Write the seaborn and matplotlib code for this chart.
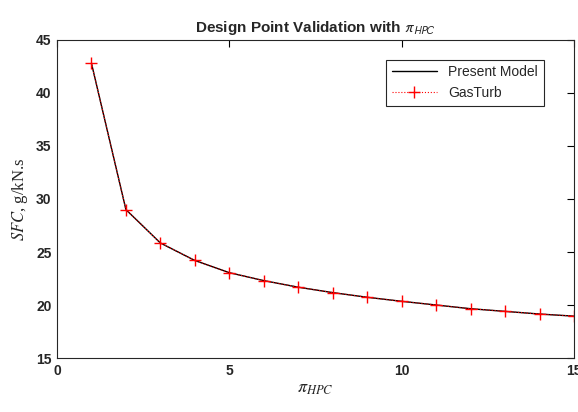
import numpy as np
import pandas as pd
import matplotlib
matplotlib.use("Agg")
import matplotlib.pyplot as plt
import seaborn as sns

# --- datos ---
pi_hpc = [1, 2, 3, 4, 5, 6, 7, 8, 9, 10, 11, 12, 13, 14, 15]
sfc_model = [42.8, 29.0, 25.85, 24.2, 23.05, 22.3, 21.68, 21.17, 20.73, 20.35,
             20.0, 19.65, 19.4, 19.15, 18.95]
sfc_gasturb = [42.8, 29.0, 25.85, 24.2, 23.05, 22.3, 21.68, 21.17, 20.73, 20.35,
               20.0, 19.65, 19.4, 19.15, 18.95]
x_ticks = [0, 5, 10, 15]
y_ticks = [15, 20, 25, 30, 35, 40, 45]

sns.set_style("white")
plt.rcParams['font.family'] = ['Liberation Sans', 'DejaVu Sans']

fig = plt.figure(figsize=(5.78, 4.12), dpi=100)
ax = fig.add_axes([0.0986, 0.131, 0.8945, 0.772])

df = pd.DataFrame({"pi": pi_hpc, "model": sfc_model, "gasturb": sfc_gasturb})

sns.lineplot(data=df, x="pi", y="model", ax=ax, color="black", linewidth=1.0,
             label="Present Model")
sns.lineplot(data=df, x="pi", y="gasturb", ax=ax, color="red", linewidth=0.8,
             linestyle=":", marker="+", markersize=8, markeredgewidth=1.0,
             markeredgecolor="red", markerfacecolor="red", label="GasTurb")

ax.set_xlim(0, 15)
ax.set_ylim(15, 45)
ax.set_xticks(x_ticks)
ax.set_yticks(y_ticks)
ax.tick_params(direction="in", length=5, width=0.8, top=True, right=True,
               labelsize=10, colors="black", pad=4)
for lab in ax.get_xticklabels() + ax.get_yticklabels():
    lab.set_fontweight("bold")
    lab.set_color("#262626")
for s in ax.spines.values():
    s.set_color("#262626")
    s.set_linewidth(0.8)

ax.set_xlabel(r"$\pi_{HPC}$", fontsize=13, math_fontfamily="stix", labelpad=2)
ax.set_ylabel(r"$SFC$, g/kN.s", fontsize=12, family="Liberation Serif",
              math_fontfamily="stix", labelpad=4)
ax.set_title(r"Design Point Validation with $\pi_{HPC}$", fontsize=11,
             fontweight="bold", math_fontfamily="stixsans", pad=6)

leg = ax.legend(loc="upper right", fontsize=10, frameon=True, fancybox=False,
                edgecolor="#262626", framealpha=1, borderpad=0.4,
                handlelength=3.3, bbox_to_anchor=(0.955, 0.96))
leg.get_frame().set_linewidth(0.8)

fig.savefig("out.png", dpi=100)
